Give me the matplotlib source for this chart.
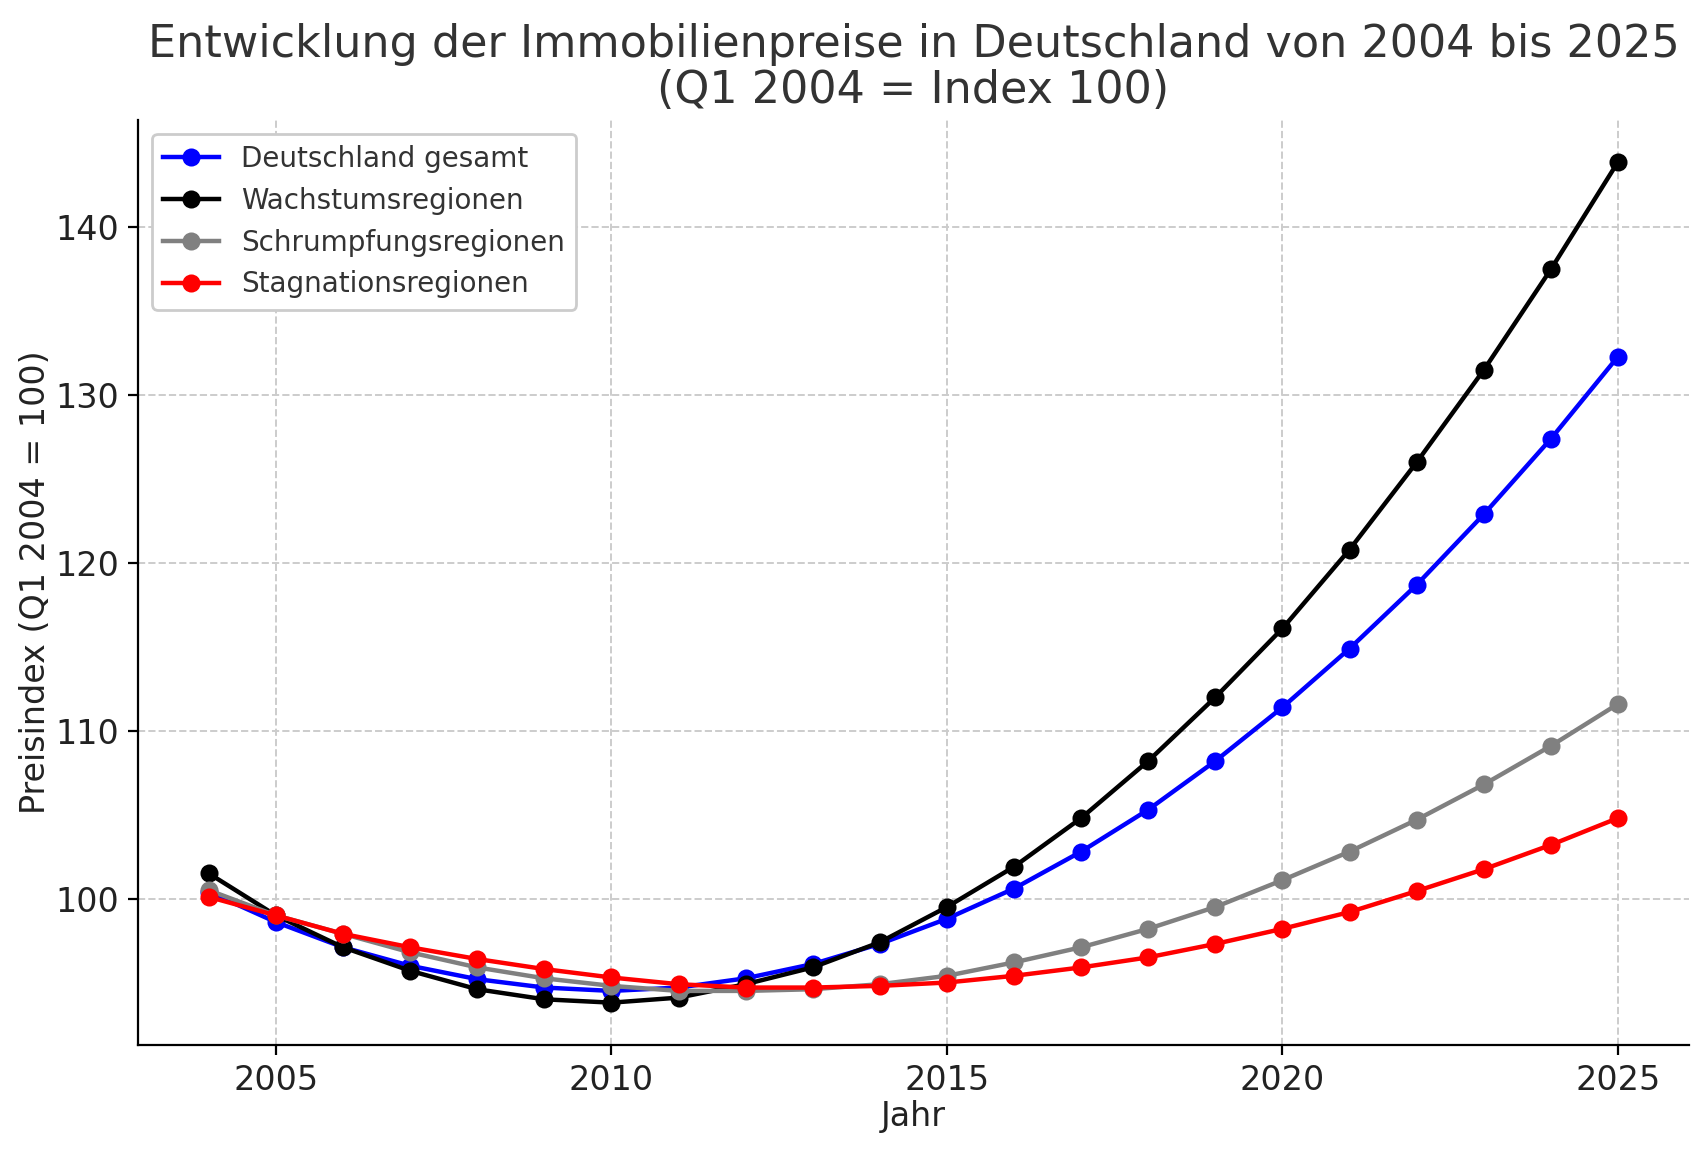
import matplotlib
matplotlib.use("Agg")
import matplotlib.pyplot as plt

years = list(range(2004, 2026))
deutschland = [100.4, 98.6, 97.1, 96.0, 95.2, 94.7, 94.5, 94.7, 95.25, 96.1, 97.3, 98.8,
               100.6, 102.8, 105.3, 108.2, 111.4, 114.9, 118.7, 122.9, 127.4, 132.3]
wachstum = [101.5, 99.0, 97.1, 95.7, 94.6, 94.0, 93.8, 94.1, 94.9, 95.9, 97.4, 99.5,
            101.9, 104.8, 108.2, 112.0, 116.1, 120.8, 126.0, 131.5, 137.5, 143.9]
schrumpfung = [100.5, 99.0, 97.9, 96.8, 95.9, 95.25, 94.8, 94.5, 94.5, 94.6, 94.9, 95.4,
               96.2, 97.1, 98.2, 99.5, 101.1, 102.8, 104.7, 106.8, 109.1, 111.6]
stagnation = [100.1, 99.0, 97.9, 97.1, 96.4, 95.8, 95.3, 94.9, 94.7, 94.7, 94.8, 95.0,
              95.4, 95.9, 96.5, 97.3, 98.2, 99.2, 100.45, 101.75, 103.2, 104.8]

series = [
    ("Deutschland gesamt", deutschland, "blue"),
    ("Wachstumsregionen", wachstum, "black"),
    ("Schrumpfungsregionen", schrumpfung, "gray"),
    ("Stagnationsregionen", stagnation, "red"),
]

fig = plt.figure(figsize=(8.535, 5.755), dpi=200)
ax = fig.add_axes([138.3/1707, 1 - 1044.7/1151, (1688.5-138.3)/1707, (1044.7-119.8)/1151])

for label, vals, col in series:
    ax.plot(years, vals, marker="o", color=col, label=label, linewidth=1.6, markersize=5.5)

ax.set_title("Entwicklung der Immobilienpreise in Deutschland von 2004 bis 2025\n(Q1 2004 = Index 100)",
             fontsize=16, color="#333333", linespacing=1.1)
ax.set_xlabel("Jahr", fontsize=12, color="#222222", labelpad=1)
ax.set_ylabel("Preisindex (Q1 2004 = 100)", fontsize=12, color="#222222", labelpad=1)
ax.set_xticks([2005, 2010, 2015, 2020, 2025])
ax.set_yticks([100, 110, 120, 130, 140])
ax.tick_params(labelsize=12, labelcolor="#222222")
ax.grid(True, linestyle="--", color="#cccccc", linewidth=0.7)
ax.spines["top"].set_visible(False)
ax.spines["right"].set_visible(False)
leg = ax.legend(loc="upper left", fontsize=10, framealpha=1)
for t in leg.get_texts():
    t.set_color("#333333")

fig.savefig("out.png", dpi=200)
